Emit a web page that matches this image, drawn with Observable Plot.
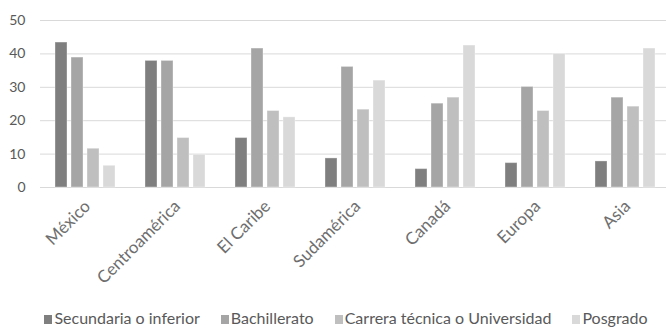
<!DOCTYPE html>
<html>
<head>
<meta charset="utf-8">
<script src="https://cdn.jsdelivr.net/npm/d3@7"></script>
<script src="https://cdn.jsdelivr.net/npm/@observablehq/plot@0.6"></script>
<style>
  body { margin: 0; background: #fff; font-family: Lato, "Open Sans", sans-serif; }
  #wrap { position: relative; width: 666px; height: 328px; overflow: hidden; }
  #legend { position: absolute; left: 26px; width: 640px; top: 309px; display: flex; justify-content: center; gap: 21px; font-size: 16px; line-height: 18px; color: #595959; white-space: nowrap; }
  #legend span.sw { display: inline-block; width: 8px; height: 9px; margin-right: 2px; vertical-align: 0px; }
</style>
</head>
<body>
<div id="wrap"><div id="chart"></div><div id="legend"></div></div>
<script>
const regions = ["México", "Centroamérica", "El Caribe", "Sudamérica", "Canadá", "Europa", "Asia"];
const levels = ["Secundaria o inferior", "Bachillerato", "Carrera técnica o Universidad", "Posgrado"];
const colors = ["#7f7f7f", "#a5a5a5", "#bfbfbf", "#d9d9d9"];
const secundaria   = [43.4, 37.9, 14.8, 8.7, 5.5, 7.3, 7.8];
const bachillerato = [38.9, 37.9, 41.6, 36.1, 25.1, 30.1, 26.9];
const carrera      = [11.6, 14.8, 22.9, 23.3, 26.9, 22.9, 24.2];
const posgrado     = [6.5, 9.8, 21.0, 32.0, 42.5, 40.0, 41.6];
const yTicks = [0, 10, 20, 30, 40, 50];

const series = [secundaria, bachillerato, carrera, posgrado];
const data = [];
regions.forEach((r, i) => series.forEach((s, j) => data.push({region: r, level: levels[j], value: s[i]})));

const chart = Plot.plot({
  width: 666,
  height: 328,
  marginTop: 20,
  marginBottom: 141,
  marginLeft: 40,
  marginRight: -4,
  style: {fontFamily: "Lato, 'Open Sans', sans-serif", fontSize: "14px", color: "#595959", overflow: "hidden"},
  fx: {domain: regions, padding: 0, label: null},
  x: {domain: levels, paddingInner: 0.24, paddingOuter: 0.85, axis: null},
  y: {domain: [0, 50], label: null},
  color: {domain: levels, range: colors},
  marks: [
    Plot.ruleY(yTicks, {stroke: "#d9d9d9", strokeWidth: 1}),
    Plot.axisY(yTicks, {tickSize: 0, tickPadding: 15, label: null, fontSize: 14}),
    Plot.axisFx({anchor: "bottom", tickSize: 0, tickRotate: -45, label: null, tickPadding: 16, fontSize: 17, dx: 2, fill: "#6e6e6e"}),
    Plot.barY(data, {fx: "region", x: "level", y: "value", fill: "level", stroke: "#ffffff", strokeOpacity: 0.35, strokeWidth: 1})
  ]
});
document.getElementById("chart").appendChild(chart);

const legend = document.getElementById("legend");
levels.forEach((l, i) => {
  const item = document.createElement("div");
  item.innerHTML = `<span class="sw" style="background:${colors[i]}"></span>${l}`;
  legend.appendChild(item);
});
</script>
</body>
</html>
